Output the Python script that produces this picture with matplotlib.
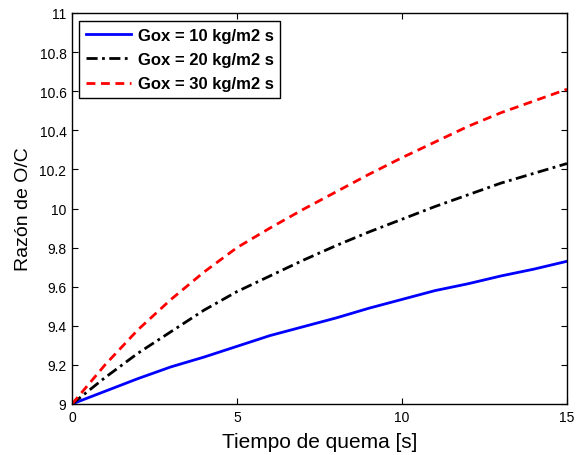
import matplotlib
matplotlib.use("Agg")
import matplotlib.pyplot as plt

plt.rcParams['font.family'] = ['Liberation Sans', 'DejaVu Sans']

t = [0, 1, 2, 3, 4, 5, 6, 7, 8, 9, 10, 11, 12, 13, 14, 15]
oc_10 = [9.0, 9.065, 9.13, 9.19, 9.24, 9.295, 9.35, 9.395, 9.44, 9.49, 9.535, 9.58, 9.615, 9.655, 9.69, 9.73]
oc_20 = [9.0, 9.135, 9.26, 9.37, 9.48, 9.575, 9.655, 9.735, 9.81, 9.88, 9.945, 10.01, 10.07, 10.13, 10.18, 10.23]
oc_30 = [9.0, 9.2, 9.38, 9.535, 9.675, 9.8, 9.9, 9.995, 10.085, 10.175, 10.26, 10.34, 10.42, 10.49, 10.55, 10.61]
labels = ["Gox = 10 kg/m2 s", "Gox = 20 kg/m2 s", "Gox = 30 kg/m2 s"]
xticks = [0, 5, 10, 15]
yticks = [9, 9.2, 9.4, 9.6, 9.8, 10, 10.2, 10.4, 10.6, 10.8, 11]
ytick_labels = ["9", "9.2", "9.4", "9.6", "9.8", "10", "10.2", "10.4", "10.6", "10.8", "11"]

fig = plt.figure(figsize=(5.79, 4.56), dpi=100)
ax = fig.add_axes([72/579, 1-405/456, (567-72)/579, (405-14)/456])

ax.plot(t, oc_10, color='#0000ff', linestyle='-', lw=2.0, label=labels[0])
ax.plot(t, oc_20, color='black', linestyle=(0, (4, 1.6, 1, 1.6)), lw=2.0, label=labels[1])
ax.plot(t, oc_30, color='#ff0000', linestyle=(0, (3.2, 2)), lw=2.0, label=labels[2])

ax.set_xlim(0, 15)
ax.set_ylim(9, 11)
ax.set_xticks(xticks)
ax.set_yticks(yticks)
ax.set_yticklabels(ytick_labels)
ax.tick_params(direction='in', top=True, right=True, length=4.5, width=0.8, labelsize=10, pad=4)
for s in ax.spines.values():
    s.set_linewidth(1.0)

ax.set_xlabel("Tiempo de quema [s]", fontsize=15, labelpad=6)
ax.set_ylabel("Razón de O/C", fontsize=14, labelpad=5)

leg = ax.legend(loc='upper left', bbox_to_anchor=(0.014, 0.980), fancybox=False, edgecolor='black',
                prop={'weight': 'bold', 'size': 12}, handlelength=2.7, borderpad=0.42,
                labelspacing=0.56, handletextpad=0.4, borderaxespad=0, framealpha=1)
leg.get_frame().set_linewidth(1.0)

fig.savefig("out.png", dpi=100)
